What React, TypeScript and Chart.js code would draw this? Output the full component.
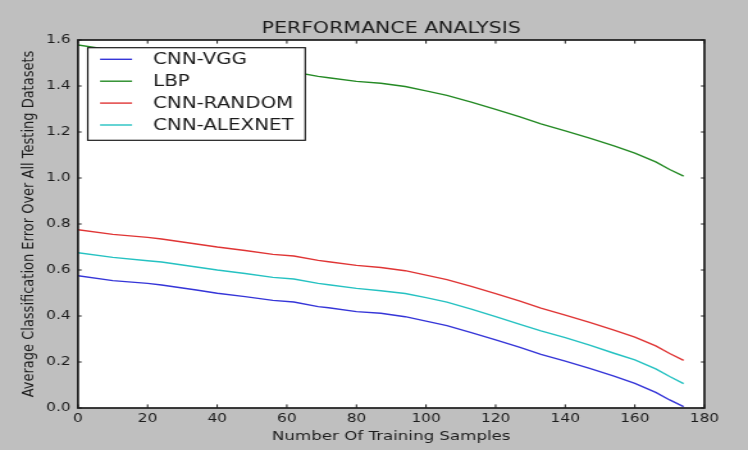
import { useEffect, useRef } from "react";
import { Chart, registerables } from "chart.js";

Chart.register(...registerables);

// Number of training samples at which each error value was recorded
const samples = [0, 10, 20, 24, 30, 34, 40, 48, 56, 62, 69, 72, 80, 87, 94, 100, 106, 113, 120, 127, 133, 140, 147, 154, 160, 166, 170, 174];

// Average classification error per method
const cnnVgg = [0.575, 0.554, 0.542, 0.535, 0.522, 0.513, 0.499, 0.484, 0.468, 0.461, 0.441, 0.436, 0.419, 0.412, 0.397, 0.378, 0.358, 0.328, 0.296, 0.264, 0.233, 0.204, 0.172, 0.139, 0.107, 0.068, 0.035, 0.006];
const lbp = [1.578, 1.556, 1.543, 1.535, 1.522, 1.513, 1.5, 1.485, 1.468, 1.461, 1.442, 1.436, 1.42, 1.412, 1.398, 1.379, 1.359, 1.33, 1.298, 1.266, 1.235, 1.205, 1.173, 1.14, 1.108, 1.07, 1.037, 1.008];
const cnnRandom = [0.775, 0.755, 0.742, 0.735, 0.722, 0.713, 0.7, 0.685, 0.668, 0.661, 0.642, 0.636, 0.62, 0.611, 0.597, 0.578, 0.558, 0.529, 0.497, 0.465, 0.434, 0.404, 0.372, 0.339, 0.308, 0.27, 0.237, 0.207];
const cnnAlexnet = [0.675, 0.655, 0.64, 0.635, 0.622, 0.613, 0.6, 0.585, 0.568, 0.561, 0.542, 0.536, 0.52, 0.51, 0.498, 0.48, 0.46, 0.43, 0.397, 0.364, 0.335, 0.306, 0.273, 0.238, 0.209, 0.17, 0.137, 0.106];

const seriesNames = ["CNN-VGG", "LBP", "CNN-RANDOM", "CNN-ALEXNET"];
const seriesValues = [cnnVgg, lbp, cnnRandom, cnnAlexnet];
const seriesColors = ["#3535d8", "#248a24", "#e03535", "#25c2c2"];

// Axis tick values
const xTicks = [0, 20, 40, 60, 80, 100, 120, 140, 160, 180];
const yTicks = [0, 0.2, 0.4, 0.6, 0.8, 1.0, 1.2, 1.4, 1.6];

const titleText = "PERFORMANCE ANALYSIS";
const xTitle = "Number Of Training Samples";
const yTitle = "Average Classification Error Over All Testing Datasets";

// The figure is drawn on a narrower canvas and widened horizontally.
const FIG_W = 748;
const FIG_H = 450;
const CANVAS_W = 584;
const STRETCH = FIG_W / CANVAS_W;

const FONT = "'DejaVu Sans', Verdana, sans-serif";
const INK = "#1c1c1c";

const framePlugin = {
  id: "frameAndLegend",
  beforeDatasetsDraw(chart: any) {
    const { ctx, chartArea: a } = chart;
    ctx.save();
    ctx.fillStyle = "#ffffff";
    ctx.fillRect(a.left, a.top, a.right - a.left, a.bottom - a.top);
    ctx.restore();
  },
  afterDatasetsDraw(chart: any) {
    const { ctx, chartArea: a, scales } = chart;
    ctx.save();
    ctx.strokeStyle = INK;
    ctx.lineWidth = 1;
    // inward tick marks on all four sides
    const tx = 3.6;
    const ty = 2.8;
    ctx.beginPath();
    for (const v of xTicks) {
      const px = scales.x.getPixelForValue(v);
      ctx.moveTo(px, a.bottom);
      ctx.lineTo(px, a.bottom - tx);
      ctx.moveTo(px, a.top);
      ctx.lineTo(px, a.top + tx);
    }
    for (const v of yTicks) {
      const py = scales.y.getPixelForValue(v);
      ctx.moveTo(a.left, py);
      ctx.lineTo(a.left + ty, py);
      ctx.moveTo(a.right, py);
      ctx.lineTo(a.right - ty, py);
    }
    ctx.stroke();
    ctx.lineWidth = 1.7;
    ctx.strokeRect(a.left, a.top, a.right - a.left, a.bottom - a.top);

    // legend
    const bx = a.left + 7.6;
    const by = a.top + 7.7;
    const bw = 169.8;
    const bh = 92.6;
    ctx.fillStyle = "#ffffff";
    ctx.fillRect(bx, by, bw, bh);
    ctx.lineWidth = 1.2;
    ctx.strokeStyle = INK;
    ctx.strokeRect(bx, by, bw, bh);
    ctx.font = `15.5px ${FONT}`;
    ctx.textBaseline = "middle";
    ctx.textAlign = "left";
    seriesNames.forEach((name, i) => {
      const y = by + 11.6 + i * 21.9;
      ctx.strokeStyle = seriesColors[i];
      ctx.lineWidth = 1.4;
      ctx.beginPath();
      ctx.moveTo(bx + 9.6, y);
      ctx.lineTo(bx + 34.6, y);
      ctx.stroke();
      ctx.fillStyle = INK;
      ctx.fillText(name, bx + 51, y + 0.8);
    });
    ctx.restore();
  },
};

export default function App() {
  const ref = useRef<HTMLCanvasElement>(null);

  useEffect(() => {
    Chart.defaults.font.family = FONT;
    Chart.defaults.color = INK;
    const chart = new Chart(ref.current as HTMLCanvasElement, {
      type: "line",
      data: {
        datasets: seriesNames.map((name, i) => ({
          label: name,
          data: samples.map((x, j) => ({ x, y: seriesValues[i][j] })),
          borderColor: seriesColors[i],
          backgroundColor: seriesColors[i],
          borderWidth: 1.4,
          pointRadius: 0,
          tension: 0,
          fill: false,
        })),
      },
      options: {
        animation: false,
        responsive: false,
        devicePixelRatio: 1,
        layout: { padding: { left: 0, right: 34, top: 0, bottom: 0 } },
        plugins: {
          legend: { display: false },
          tooltip: { enabled: false },
          title: {
            display: true,
            text: titleText,
            fullSize: false,
            color: INK,
            font: { size: 16, weight: "normal" },
            padding: { top: 19.7, bottom: 1.1 },
          },
        },
        scales: {
          x: {
            type: "linear",
            min: 0,
            max: 180,
            grid: { display: false, drawTicks: false },
            border: { display: false },
            afterBuildTicks: (s: any) => {
              s.ticks = xTicks.map((value) => ({ value }));
            },
            afterFit: (s: any) => {
              s.height = 42;
            },
            ticks: {
              padding: 3.8,
              color: INK,
              font: { size: 12 },
              maxRotation: 0,
              callback: (v: any) => String(v),
            },
            title: {
              display: true,
              text: xTitle,
              color: INK,
              font: { size: 13 },
              padding: { top: 0, bottom: 5.3 },
            },
          },
          y: {
            type: "linear",
            min: 0,
            max: 1.6,
            grid: { display: false, drawTicks: false },
            border: { display: false },
            afterBuildTicks: (s: any) => {
              s.ticks = yTicks.map((value) => ({ value }));
            },
            afterFit: (s: any) => {
              s.width = 60.9;
            },
            ticks: {
              padding: 5.8,
              color: INK,
              font: { size: 12 },
              callback: (v: any) => Number(v).toFixed(1),
            },
            title: {
              display: true,
              text: yTitle,
              color: INK,
              font: { size: 13 },
              padding: { top: 14.6, bottom: 0 },
            },
          },
        },
      },
      plugins: [framePlugin],
    } as any);
    return () => chart.destroy();
  }, []);

  return (
    <div style={{ position: "fixed", left: 0, top: 0, width: 752, height: 454, background: "#ffffff" }}>
      <div
        style={{
          position: "absolute",
          left: 0,
          top: 0,
          width: FIG_W,
          height: FIG_H,
          background: "#bfbfbf",
          overflow: "hidden",
        }}
      >
        <div style={{ width: CANVAS_W, height: FIG_H, transform: `scaleX(${STRETCH})`, transformOrigin: "0 0" }}>
          <canvas ref={ref} width={CANVAS_W} height={FIG_H} style={{ display: "block" }} />
        </div>
      </div>
    </div>
  );
}
